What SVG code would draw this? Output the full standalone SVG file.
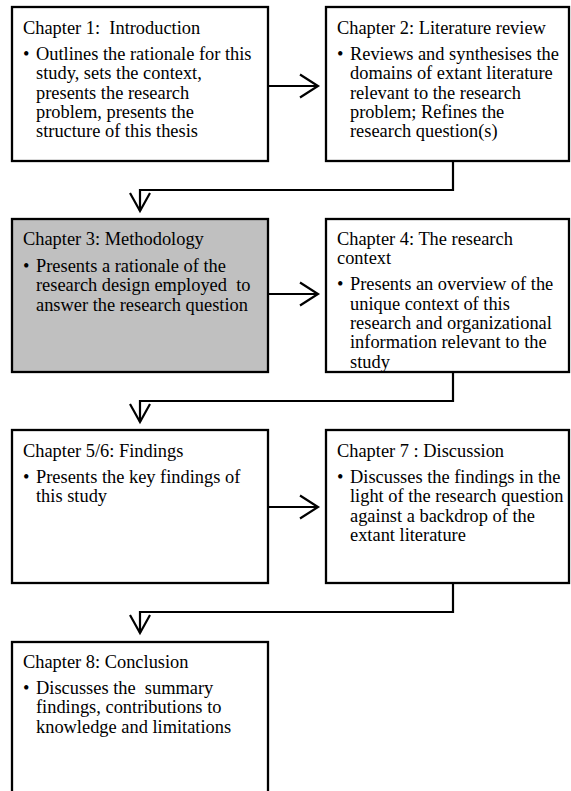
<svg xmlns="http://www.w3.org/2000/svg" width="571" height="791" viewBox="0 0 571 791">
<style>
.box{fill:#ffffff;stroke:#000000;stroke-width:2.3}
.grey{fill:#c0c0c0}
.t{font-family:"Liberation Serif","Times New Roman",serif;font-size:18.4px;fill:#000000;white-space:pre}
.ln{fill:none;stroke:#000000;stroke-width:2.2}
.hd{fill:none;stroke:#000000;stroke-width:2.2;stroke-linejoin:miter}
</style>
<rect x="0" y="0" width="571" height="791" fill="#ffffff"/>
<g id="connectors">
<path class="ln" d="M268,86 H318"/>
<path class="hd" d="M300,74.5 L318,86 L300,97.5"/>
<path class="ln" d="M453,161 V190 H140 V211"/>
<path class="hd" d="M130,193 L140,211 L150,193"/>
<path class="ln" d="M268,294 H318"/>
<path class="hd" d="M300,282.5 L318,294 L300,305.5"/>
<path class="ln" d="M453,372 V401 H140 V422"/>
<path class="hd" d="M130,404 L140,422 L150,404"/>
<path class="ln" d="M268,507 H318"/>
<path class="hd" d="M300,495.5 L318,507 L300,518.5"/>
<path class="ln" d="M453,583 V612 H140 V633"/>
<path class="hd" d="M130,615 L140,633 L150,615"/>
</g>
<g id="ch1">
<rect class="box" x="12" y="7" width="256" height="154"/>
<text class="t" x="23" y="34">Chapter 1:  Introduction</text>
<text class="t" x="23" y="60">•</text>
<text class="t" x="36" y="60">Outlines the rationale for this</text>
<text class="t" x="36" y="79.3">study, sets the context,</text>
<text class="t" x="36" y="98.6">presents the research</text>
<text class="t" x="36" y="117.9">problem, presents the</text>
<text class="t" x="36" y="137.2">structure of this thesis</text>
</g>
<g id="ch2">
<rect class="box" x="326" y="7" width="243" height="154"/>
<text class="t" x="337" y="34">Chapter 2: Literature review</text>
<text class="t" x="337" y="60">•</text>
<text class="t" x="350" y="60">Reviews and synthesises the</text>
<text class="t" x="350" y="79.3">domains of extant literature</text>
<text class="t" x="350" y="98.6">relevant to the research</text>
<text class="t" x="350" y="117.9">problem; Refines the</text>
<text class="t" x="350" y="137.2">research question(s)</text>
</g>
<g id="ch3">
<rect class="box grey" x="12" y="219" width="256" height="153"/>
<text class="t" x="23" y="245">Chapter 3: Methodology</text>
<text class="t" x="23" y="272">•</text>
<text class="t" x="36" y="272">Presents a rationale of the</text>
<text class="t" x="36" y="291.3">research design employed  to</text>
<text class="t" x="36" y="310.6">answer the research question</text>
</g>
<g id="ch4">
<rect class="box" x="326" y="219" width="243" height="153"/>
<text class="t" x="337" y="245">Chapter 4: The research</text>
<text class="t" x="337" y="264.3">context</text>
<text class="t" x="337" y="290.3">•</text>
<text class="t" x="350" y="290.3">Presents an overview of the</text>
<text class="t" x="350" y="309.6">unique context of this</text>
<text class="t" x="350" y="328.9">research and organizational</text>
<text class="t" x="350" y="348.2">information relevant to the</text>
<text class="t" x="350" y="367.5">study</text>
</g>
<g id="ch5">
<rect class="box" x="12" y="430" width="256" height="153"/>
<text class="t" x="23" y="457">Chapter 5/6: Findings</text>
<text class="t" x="23" y="483">•</text>
<text class="t" x="36" y="483">Presents the key findings of</text>
<text class="t" x="36" y="502.3">this study</text>
</g>
<g id="ch7">
<rect class="box" x="326" y="430" width="243" height="153"/>
<text class="t" x="337" y="457">Chapter 7 : Discussion</text>
<text class="t" x="337" y="483">•</text>
<text class="t" x="350" y="483">Discusses the findings in the</text>
<text class="t" x="350" y="502.3">light of the research question</text>
<text class="t" x="350" y="521.6">against a backdrop of the</text>
<text class="t" x="350" y="540.9">extant literature</text>
</g>
<g id="ch8">
<rect class="box" x="12" y="642" width="256" height="200"/>
<text class="t" x="23" y="668">Chapter 8: Conclusion</text>
<text class="t" x="23" y="694">•</text>
<text class="t" x="36" y="694">Discusses the  summary</text>
<text class="t" x="36" y="713.3">findings, contributions to</text>
<text class="t" x="36" y="732.6">knowledge and limitations</text>
</g>
</svg>
